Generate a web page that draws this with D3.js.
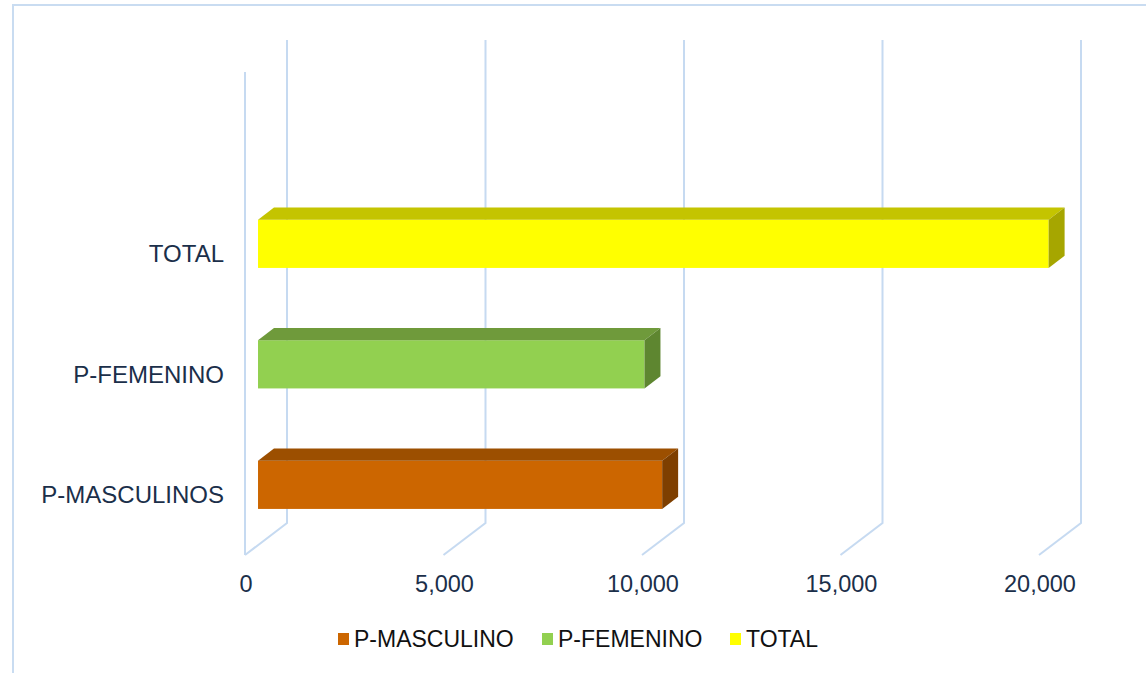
<!DOCTYPE html>
<html>
<head>
<meta charset="utf-8">
<script src="https://cdn.jsdelivr.net/npm/d3@7"></script>
<style>
  body { margin: 0; background: #fff; }
  svg { display: block; font-family: "Liberation Sans", Arial, sans-serif; }
</style>
</head>
<body>
<svg id="chart" width="1146" height="673"></svg>
<script>
// data
const categories = ["P-MASCULINOS", "P-FEMENINO", "TOTAL"];
const values = [10180, 9735, 19915];
const tickValues = [0, 5000, 10000, 15000, 20000];
const legendLabels = ["P-MASCULINO", "P-FEMENINO", "TOTAL"];
const frontColors = ["#CC6600", "#92D050", "#FFFF00"];
const topColors = ["#9C4F00", "#6F9A3B", "#C4C400"];
const sideColors = ["#7E3F00", "#5E8630", "#A6A600"];

const svg = d3.select("#chart");
const gridColor = "#C6DAF1";

// frame border
svg.append("rect")
  .attr("x", 13).attr("y", 5)
  .attr("width", 1150).attr("height", 700)
  .attr("fill", "none")
  .attr("stroke", "#C9DCF1")
  .attr("stroke-width", 2);

// front plane scales + depth vector of the 3d box
const x = d3.scaleLinear().domain([0, 20000]).range([245, 1039]);
const y = d3.scaleBand().domain(categories).range([555, 193.5]);
const depth = {dx: 42, dy: -32};
const floorY = 555, wallTop = 72;
const barStart = 0.31, barDepth = 0.38;

// wall / floor gridlines
const grid = svg.append("g").attr("stroke", gridColor).attr("stroke-width", 2).attr("fill", "none");
grid.append("line")
  .attr("x1", x(0)).attr("x2", x(0))
  .attr("y1", wallTop).attr("y2", floorY);
tickValues.forEach(v => {
  grid.append("polyline")
    .attr("points", [
      [x(v), floorY],
      [x(v) + depth.dx, floorY + depth.dy],
      [x(v) + depth.dx, wallTop + depth.dy]
    ].map(p => p.join(",")).join(" "));
});

// bars
const ox = depth.dx * barStart, oy = depth.dy * barStart;
const bx = depth.dx * barDepth, by = depth.dy * barDepth;
const bh = y.bandwidth() * 0.4;

categories.forEach((c, i) => {
  const x0 = x(0) + ox, x1 = x(values[i]) + ox;
  const yc = y(c) + y.bandwidth() / 2 + oy;
  const top = yc - bh / 2, bot = yc + bh / 2;
  const g = svg.append("g");
  g.append("rect")
    .attr("x", x0).attr("y", top)
    .attr("width", x1 - x0).attr("height", bh)
    .attr("fill", frontColors[i]);
  g.append("polygon")
    .attr("points", [[x0, top], [x0 + bx, top + by], [x1 + bx, top + by], [x1, top]].map(p => p.join(",")).join(" "))
    .attr("fill", topColors[i]);
  g.append("polygon")
    .attr("points", [[x1, top], [x1 + bx, top + by], [x1 + bx, bot + by], [x1, bot]].map(p => p.join(",")).join(" "))
    .attr("fill", sideColors[i]);
});

// category labels
svg.append("g").selectAll("text")
  .data(categories)
  .join("text")
  .attr("x", 224)
  .attr("y", d => y(d) + y.bandwidth() / 2)
  .attr("dy", "0.35em")
  .attr("text-anchor", "end")
  .attr("font-size", 24)
  .attr("fill", "#1B2F4A")
  .text(d => d);

// value axis labels
svg.append("g").selectAll("text")
  .data(tickValues)
  .join("text")
  .attr("x", d => x(d) + 1)
  .attr("y", 592)
  .attr("text-anchor", "middle")
  .attr("font-size", 23.5)
  .attr("fill", "#1B2F4A")
  .text(d => d3.format(",")(d));

// legend
const legendX = [338, 542, 730];
const legend = svg.append("g");
legendLabels.forEach((l, i) => {
  legend.append("rect")
    .attr("x", legendX[i]).attr("y", 633)
    .attr("width", 11).attr("height", 12)
    .attr("fill", frontColors[i]);
  legend.append("text")
    .attr("x", legendX[i] + 16).attr("y", 646.5)
    .attr("font-size", 23)
    .attr("fill", "#111")
    .text(l);
});
</script>
</body>
</html>
